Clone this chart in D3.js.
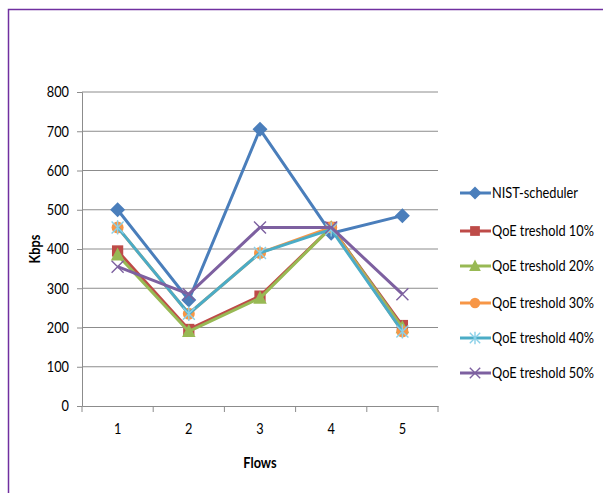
<!DOCTYPE html>
<html>
<head>
<meta charset="utf-8">
<script src="https://cdn.jsdelivr.net/npm/d3@7"></script>
<style>
  body { margin: 0; background: #fff; }
  text { font-family: Lato, "DejaVu Sans", sans-serif; }
</style>
</head>
<body>
<svg id="chart" width="603" height="493"></svg>
<script>
// Chart data
const flows = [1, 2, 3, 4, 5];
const yTicks = [0, 100, 200, 300, 400, 500, 600, 700, 800];
const nist = [500, 270, 705, 440, 485];
const qoe10 = [395, 195, 280, 455, 205];
const qoe20 = [385, 190, 275, 455, 200];
const qoe30 = [455, 235, 390, 455, 190];
const qoe40 = [455, 235, 390, 450, 190];
const qoe50 = [355, 285, 455, 455, 285];
const seriesNames = ["NIST-scheduler", "QoE treshold 10%", "QoE treshold 20%",
                     "QoE treshold 30%", "QoE treshold 40%", "QoE treshold 50%"];

const series = [
  { name: seriesNames[0], values: nist,  color: "#4a7ebb", marker: "diamond" },
  { name: seriesNames[1], values: qoe10, color: "#be4b48", marker: "square" },
  { name: seriesNames[2], values: qoe20, color: "#98b954", marker: "triangle" },
  { name: seriesNames[3], values: qoe30, color: "#f79646", marker: "circle" },
  { name: seriesNames[4], values: qoe40, color: "#4bacc6", marker: "star" },
  { name: seriesNames[5], values: qoe50, color: "#7d60a0", marker: "x" }
];

const svg = d3.select("#chart");

// the original font is narrow; squeeze horizontally so the legend fits
const probe = svg.append("text").attr("font-size", 15).text(seriesNames[1]);
const K = Math.min(1, 102 / probe.node().getComputedTextLength());
probe.remove();

// outer frame
svg.append("rect")
  .attr("x", 8.5).attr("y", 9.5)
  .attr("width", 620).attr("height", 520)
  .attr("fill", "none")
  .attr("stroke", "#7030a0")
  .attr("stroke-width", 1.5);

const plot = { left: 82, right: 438, top: 92, bottom: 406 };

const x = d3.scaleBand().domain(flows).range([plot.left, plot.right]);
const y = d3.scaleLinear().domain([0, 800]).range([plot.bottom, plot.top]);

// grid lines
svg.append("g")
  .selectAll("line")
  .data(yTicks.filter(d => d > 0))
  .enter().append("line")
  .attr("x1", plot.left).attr("x2", plot.right)
  .attr("y1", d => y(d)).attr("y2", d => y(d))
  .attr("stroke", "#8c8c8c")
  .attr("stroke-width", 1);

// y axis
const yAxis = svg.append("g")
  .attr("transform", `translate(${plot.left},0)`)
  .call(d3.axisLeft(y).tickValues(yTicks).tickSize(5).tickPadding(8));
yAxis.select(".domain").attr("stroke", "#8c8c8c");
yAxis.selectAll(".tick line").attr("stroke", "#8c8c8c");
yAxis.selectAll("text")
  .attr("font-size", 15).attr("fill", "#000")
  .attr("font-family", null)
  .attr("x", 0)
  .attr("transform", `translate(-13,0) scale(${K},1)`);

// x axis
const xAxis = svg.append("g")
  .attr("transform", `translate(0,${plot.bottom})`)
  .call(d3.axisBottom(x).tickSize(0).tickPadding(17));
xAxis.select(".domain").attr("stroke", "#8c8c8c");
xAxis.selectAll("text")
  .attr("font-size", 15).attr("fill", "#000")
  .attr("font-family", null)
  .attr("transform", `scale(${K},1)`);
// tick marks between categories
svg.append("g")
  .selectAll("line")
  .data(d3.range(flows.length + 1))
  .enter().append("line")
  .attr("x1", i => plot.left + i * x.bandwidth())
  .attr("x2", i => plot.left + i * x.bandwidth())
  .attr("y1", plot.bottom).attr("y2", plot.bottom + 6)
  .attr("stroke", "#8c8c8c");

// axis titles
svg.append("text")
  .attr("transform", `translate(40,${(plot.top + plot.bottom) / 2}) rotate(-90) scale(${K},1)`)
  .attr("text-anchor", "middle")
  .attr("font-size", 15).attr("font-weight", "bold")
  .text("Kbps");
svg.append("text")
  .attr("transform", `translate(${(plot.left + plot.right) / 2},468) scale(${K},1)`)
  .attr("text-anchor", "middle")
  .attr("font-size", 15).attr("font-weight", "bold")
  .text("Flows");

// markers
function drawMarker(g, type, color, size) {
  const s = size;
  if (type === "diamond") {
    g.append("path").attr("d", `M0,${-s}L${s},0L0,${s}L${-s},0Z`).attr("fill", color);
  } else if (type === "square") {
    g.append("rect").attr("x", -s * 0.75).attr("y", -s * 0.75)
      .attr("width", s * 1.5).attr("height", s * 1.5).attr("fill", color);
  } else if (type === "triangle") {
    g.append("path").attr("d", `M0,${-s}L${s * 0.9},${s * 0.75}L${-s * 0.9},${s * 0.75}Z`).attr("fill", color);
  } else if (type === "circle") {
    g.append("circle").attr("r", s * 0.8).attr("fill", color);
  } else if (type === "star") {
    const r = s * 0.8;
    g.append("path")
      .attr("d", `M${-r},${-r}L${r},${r}M${-r},${r}L${r},${-r}M0,${-r * 1.2}L0,${r * 1.2}`)
      .attr("stroke", "#8ad0e8").attr("stroke-width", 1.4).attr("fill", "none");
  } else if (type === "x") {
    const r = s * 0.8;
    g.append("path")
      .attr("d", `M${-r},${-r}L${r},${r}M${-r},${r}L${r},${-r}`)
      .attr("stroke", color).attr("stroke-width", 1.4).attr("fill", "none");
  }
}

const line = d3.line()
  .x((d, i) => x(flows[i]) + x.bandwidth() / 2)
  .y(d => y(d));

series.forEach(s => {
  const g = svg.append("g");
  g.append("path")
    .datum(s.values)
    .attr("d", line)
    .attr("fill", "none")
    .attr("stroke", s.color)
    .attr("stroke-width", 3)
    .attr("stroke-linejoin", "round");
  s.values.forEach((v, i) => {
    const m = g.append("g")
      .attr("transform", `translate(${x(flows[i]) + x.bandwidth() / 2},${y(v)})`);
    drawMarker(m, s.marker, s.color, 7.5);
  });
});

// legend
const legendY = [193, 231, 266, 303, 338, 373];
series.forEach((s, i) => {
  const g = svg.append("g").attr("transform", `translate(460,${legendY[i]})`);
  g.append("line").attr("x1", 0).attr("x2", 31)
    .attr("stroke", s.color).attr("stroke-width", 3);
  const m = g.append("g").attr("transform", "translate(15,0)");
  drawMarker(m, s.marker, s.color, 6.5);
  g.append("text")
    .attr("transform", `translate(32,5) scale(${K},1)`)
    .attr("font-size", 15)
    .text(s.name);
});
</script>
</body>
</html>
